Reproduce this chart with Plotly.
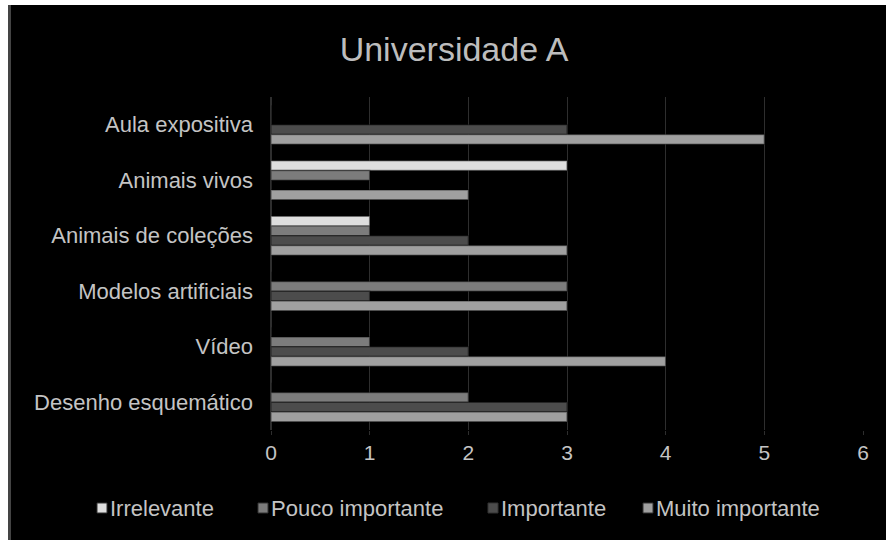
import plotly.graph_objects as go

# Survey results: rating counts per teaching resource
categories = ["Aula expositiva", "Animais vivos", "Animais de coleções",
              "Modelos artificiais", "Vídeo", "Desenho esquemático"]
irrelevante = [0, 3, 1, 0, 0, 0]
pouco_importante = [0, 1, 1, 3, 1, 2]
importante = [3, 0, 2, 1, 2, 3]
muito_importante = [5, 2, 3, 3, 4, 3]

series_names = ["Irrelevante", "Pouco importante", "Importante", "Muito importante"]
series_values = [irrelevante, pouco_importante, importante, muito_importante]
series_colors = ["#dedede", "#7c7c7c", "#4c4c4c", "#a0a0a0"]

FONT = "Liberation Sans, Arial, sans-serif"
TEXT = "#c4c4c4"

fig = go.Figure()
for name, vals, color in zip(series_names, series_values, series_colors):
    fig.add_trace(go.Bar(
        y=categories, x=vals, name=name, orientation="h", showlegend=False,
        marker=dict(color=color, line=dict(color="rgba(0,0,0,0.35)", width=1.5)),
    ))

W, H = 886, 540
L, R, T, B = 271, 23, 97, 110
pw, ph = W - L - R, H - T - B

def px_x(p):
    return (p - L) / pw

def px_y(p):
    return (H - B - p) / ph

shapes = [
    # white frame strips along the left and top edges
    dict(type="rect", xref="paper", yref="paper",
         x0=px_x(0), x1=px_x(8), y0=px_y(H), y1=px_y(0),
         fillcolor="#ffffff", line=dict(width=0), layer="above"),
    dict(type="rect", xref="paper", yref="paper",
         x0=px_x(0), x1=px_x(W), y0=px_y(5), y1=px_y(0),
         fillcolor="#ffffff", line=dict(width=0), layer="above"),
    dict(type="line", xref="paper", yref="paper",
         x0=px_x(9.5), x1=px_x(9.5), y0=px_y(H), y1=px_y(5),
         line=dict(color="#444444", width=3), layer="above"),
]
annotations = []

# legend row below the axis: swatch + label for each series
legend_left = [97, 258, 488, 643]
legend_mid = 508
sw = 10
for name, color, x0 in zip(series_names, series_colors, legend_left):
    shapes.append(dict(type="rect", xref="paper", yref="paper",
                       x0=px_x(x0), x1=px_x(x0 + sw),
                       y0=px_y(legend_mid + sw / 2), y1=px_y(legend_mid - sw / 2),
                       fillcolor=color, line=dict(color="#333333", width=1),
                       layer="above"))
    annotations.append(dict(text=name, xref="paper", yref="paper",
                            x=px_x(x0 + sw + 1), y=px_y(legend_mid),
                            xanchor="left", yanchor="middle", showarrow=False,
                            font=dict(family=FONT, size=22, color=TEXT)))

fig.update_layout(
    width=W, height=H,
    margin=dict(l=L, r=R, t=T, b=B),
    paper_bgcolor="#000000",
    plot_bgcolor="#000000",
    barmode="group",
    bargap=0.3,
    bargroupgap=0,
    showlegend=False,
    font=dict(family=FONT, color=TEXT, size=22),
    title=dict(text="Universidade A", x=454 / W, xanchor="center",
               y=1 - 49 / H, yanchor="middle",
               font=dict(family=FONT, size=34, color="#bdbdbd")),
    xaxis=dict(range=[0, 6], dtick=1, showgrid=True, gridcolor="#2e2e2e",
               gridwidth=1, zeroline=True, zerolinecolor="#2e2e2e",
               ticks="outside", ticklen=4, tickcolor="#2e2e2e",
               showline=False, fixedrange=True, automargin=False,
               tickfont=dict(size=21, color=TEXT)),
    yaxis=dict(autorange="reversed", showgrid=False, ticks="",
               showline=False, ticklabelstandoff=17, automargin=False,
               tickfont=dict(size=22, color=TEXT)),
    shapes=shapes,
    annotations=annotations,
)

fig.write_html("out.html")
